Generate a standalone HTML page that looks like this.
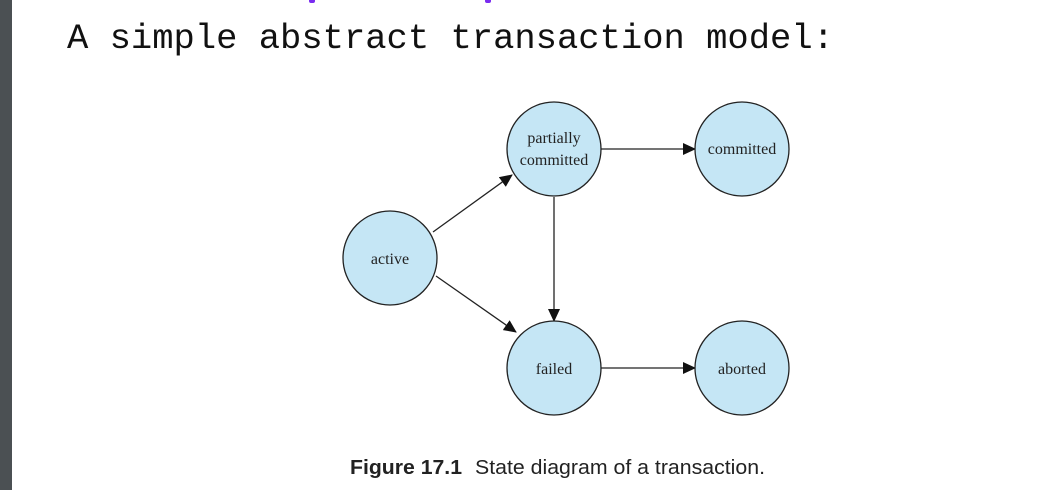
<!DOCTYPE html>
<html><head><meta charset="utf-8"><style>
body{margin:0;width:1060px;height:490px;background:#fff;position:relative;overflow:hidden}
#bar{position:absolute;left:0;top:0;width:12px;height:490px;background:#4b5053}
#title{position:absolute;left:67px;top:18px;font:35.5px "Liberation Mono",monospace;color:#111;white-space:nowrap}
svg{position:absolute;left:0;top:0}
</style></head><body>
<div id="bar"></div>
<div style="position:absolute;left:309px;top:-3px;width:6px;height:6px;background:#7a2cf0;border-radius:2px"></div>
<div style="position:absolute;left:485px;top:-3px;width:6px;height:6px;background:#7a2cf0;border-radius:2px"></div>
<div id="title">A simple abstract transaction model:</div>
<svg width="1060" height="490">
<defs><marker id="ah" markerWidth="13" markerHeight="12" refX="12" refY="6" orient="auto" markerUnits="userSpaceOnUse"><path d="M0,0 L13,6 L0,12 z" fill="#111"/></marker></defs>
<g stroke="#222" stroke-width="1.3" marker-end="url(#ah)">
<line x1="433" y1="232" x2="512" y2="175"/>
<line x1="436" y1="276" x2="516" y2="332"/>
<line x1="554" y1="197" x2="554" y2="321"/>
<line x1="601" y1="149" x2="695" y2="149"/>
<line x1="601" y1="368" x2="695" y2="368"/>
</g>
<g fill="#c5e6f5" stroke="#222" stroke-width="1.3">
<circle cx="390" cy="258" r="47"/>
<circle cx="554" cy="149" r="47"/>
<circle cx="742" cy="149" r="47"/>
<circle cx="554" cy="368" r="47"/>
<circle cx="742" cy="368" r="47"/>
</g>
<g font-family="Liberation Serif,serif" font-size="16" fill="#222" text-anchor="middle">
<text x="390" y="264">active</text>
<text x="554" y="143">partially</text>
<text x="554" y="165">committed</text>
<text x="742" y="154">committed</text>
<text x="554" y="374">failed</text>
<text x="742" y="374">aborted</text>
</g>
<text x="350" y="474" font-family="Liberation Sans,sans-serif" font-size="20" fill="#222"><tspan font-weight="bold" textLength="112" lengthAdjust="spacingAndGlyphs">Figure 17.1</tspan><tspan x="475" textLength="290" lengthAdjust="spacingAndGlyphs">State diagram of a transaction.</tspan></text>
</svg>
</body></html>
